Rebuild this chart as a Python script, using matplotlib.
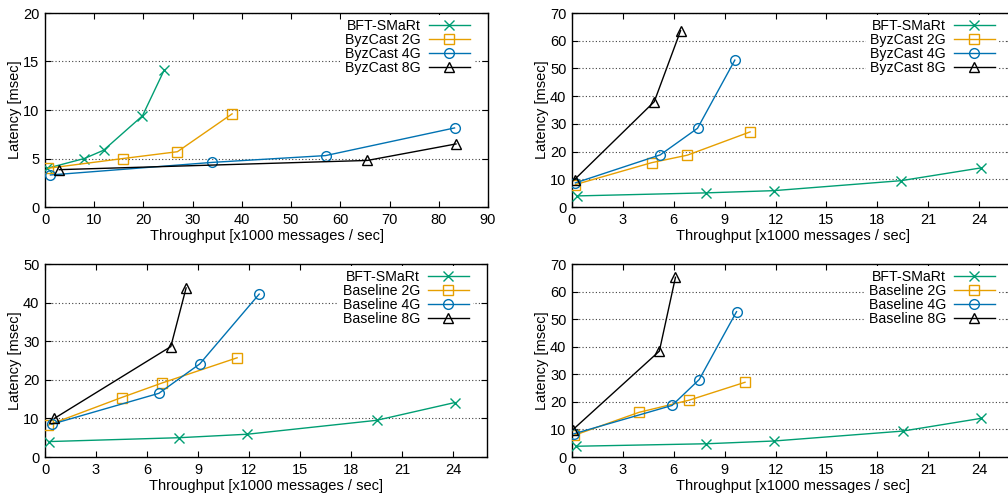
import matplotlib
matplotlib.use("Agg")
import matplotlib.pyplot as plt

plt.rcParams['font.family'] = ['Liberation Sans', 'DejaVu Sans']

# ---------------- data ----------------
# Top-left: ByzCast (local messages)
tl_bft_x = [0.5, 8.0, 11.9, 19.8, 24.2]
tl_bft_y = [4.0, 5.0, 5.85, 9.4, 14.1]
tl_2g_x = [0.7, 15.9, 26.9, 38.0]
tl_2g_y = [4.0, 5.0, 5.7, 9.6]
tl_4g_x = [1.1, 34.0, 57.0, 83.2]
tl_4g_y = [3.3, 4.6, 5.3, 8.15]
tl_8g_x = [2.9, 65.5, 83.5]
tl_8g_y = [3.85, 4.8, 6.5]

# Top-right: ByzCast (global messages)
tr_bft_x = [0.3, 7.9, 11.9, 19.4, 24.1]
tr_bft_y = [4.0, 5.1, 5.9, 9.5, 14.1]
tr_2g_x = [0.2, 4.7, 6.8, 10.5]
tr_2g_y = [8.1, 16.0, 18.7, 27.1]
tr_4g_x = [0.2, 5.2, 7.4, 9.6]
tr_4g_y = [8.7, 18.8, 28.4, 53.0]
tr_8g_x = [0.15, 4.85, 6.4]
tr_8g_y = [9.9, 38.0, 63.6]

# Bottom-left: Baseline (local messages)
bl_bft_x = [0.25, 7.9, 11.9, 19.5, 24.1]
bl_bft_y = [4.0, 5.0, 5.9, 9.5, 14.1]
bl_2g_x = [0.15, 4.5, 6.9, 11.3]
bl_2g_y = [8.2, 15.4, 19.2, 25.7]
bl_4g_x = [0.4, 6.7, 9.1, 12.6]
bl_4g_y = [8.5, 16.5, 24.1, 42.2]
bl_8g_x = [0.55, 7.4, 8.3]
bl_8g_y = [10.0, 28.6, 43.8]

# Bottom-right: Baseline (global messages)
br_bft_x = [0.25, 7.9, 11.9, 19.5, 24.1]
br_bft_y = [3.9, 4.8, 5.8, 9.4, 14.0]
br_2g_x = [0.1, 3.95, 6.9, 10.2]
br_2g_y = [7.8, 16.2, 20.6, 27.1]
br_4g_x = [0.1, 5.9, 7.5, 9.7]
br_4g_y = [8.4, 18.7, 28.1, 52.7]
br_8g_x = [0.05, 5.15, 6.1]
br_8g_y = [9.9, 38.4, 65.2]

byz_labels = ["BFT-SMaRt", "ByzCast 2G", "ByzCast 4G", "ByzCast 8G"]
base_labels = ["BFT-SMaRt", "Baseline 2G", "Baseline 4G", "Baseline 8G"]

xlabel = "Throughput [x1000 messages / sec]"
ylabel = "Latency [msec]"

tl_xticks = list(range(0, 91, 10))
tl_yticks = list(range(0, 21, 5))
r_xticks = list(range(0, 25, 3))
tr_yticks = list(range(0, 71, 10))
bl_yticks = list(range(0, 51, 10))

colors = ["#009e73", "#e69f00", "#0072b2", "#000000"]
markers = ["x", "s", "o", "^"]

FS = 10.2

fig = plt.figure(figsize=(10.08, 4.94), dpi=100)
W, H = 1008.0, 494.0


def make_ax(left, top, right, bottom):
    return fig.add_axes([left / W, 1 - bottom / H, (right - left) / W, (bottom - top) / H])


def draw(ax, series, labels, xlim, ylim, xticks, yticks, left, top, right, bottom):
    for (x, y), lab, c, m in zip(series, labels, colors, markers):
        ax.plot(x, y, color=c, marker=m, markersize=7 if m != 'x' else 7.5,
                markerfacecolor='none', markeredgecolor=c, markeredgewidth=1.0,
                linewidth=1.0, label=lab, zorder=3)
    ax.set_xlim(*xlim)
    ax.set_ylim(*ylim)
    ax.set_xticks(xticks)
    ax.set_yticks(yticks)
    ax.tick_params(direction='in', top=True, right=True, length=4, width=0.8,
                   labelsize=10.5, pad=4, colors='black')
    for s in ax.spines.values():
        s.set_linewidth(1.0)
    ax.grid(axis='y', linestyle=(0, (1, 2)), color='0.25', linewidth=0.8, zorder=1)
    ax.set_axisbelow(True)
    ax.set_xlabel(xlabel, fontsize=10.5, labelpad=2)
    ax.set_ylabel(ylabel, fontsize=10.5, labelpad=0.5)
    wpx = right - left
    hpx = bottom - top
    leg = ax.legend(loc='upper right', markerfirst=False, fontsize=FS, frameon=True,
                    handlelength=2.9, handletextpad=0.55, labelspacing=0.0,
                    borderaxespad=0.0, borderpad=0.3, fancybox=False,
                    bbox_to_anchor=(1 - 14.0 / wpx, 1 - 2.0 / hpx))
    leg.get_frame().set_edgecolor('none')
    leg.get_frame().set_facecolor('white')
    leg.get_frame().set_alpha(1.0)
    leg.set_zorder(5)


pos1 = (45, 13, 488, 207)
ax1 = make_ax(*pos1)
draw(ax1, [(tl_bft_x, tl_bft_y), (tl_2g_x, tl_2g_y), (tl_4g_x, tl_4g_y), (tl_8g_x, tl_8g_y)],
     byz_labels, (0, 90), (0, 20), tl_xticks, tl_yticks, *pos1)

pos2 = (572, 13, 1013, 207)
ax2 = make_ax(*pos2)
draw(ax2, [(tr_bft_x, tr_bft_y), (tr_2g_x, tr_2g_y), (tr_4g_x, tr_4g_y), (tr_8g_x, tr_8g_y)],
     byz_labels, (0, 26), (0, 70), r_xticks, tr_yticks, *pos2)

pos3 = (45, 264, 487, 457)
ax3 = make_ax(*pos3)
draw(ax3, [(bl_bft_x, bl_bft_y), (bl_2g_x, bl_2g_y), (bl_4g_x, bl_4g_y), (bl_8g_x, bl_8g_y)],
     base_labels, (0, 26), (0, 50), r_xticks, bl_yticks, *pos3)

pos4 = (572, 264, 1013, 457)
ax4 = make_ax(*pos4)
draw(ax4, [(br_bft_x, br_bft_y), (br_2g_x, br_2g_y), (br_4g_x, br_4g_y), (br_8g_x, br_8g_y)],
     base_labels, (0, 26), (0, 70), r_xticks, tr_yticks, *pos4)

fig.savefig("out.png", dpi=100)
